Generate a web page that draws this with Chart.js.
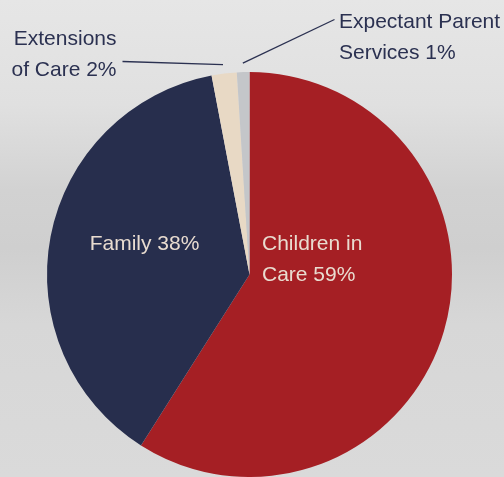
<!DOCTYPE html>
<html>
<head>
<meta charset="utf-8">
<script src="https://cdn.jsdelivr.net/npm/chart.js@4/dist/chart.umd.min.js"></script>
<style>
    html, body {
        margin: 0;
        padding: 0;
    }
    body {
        width: 504px;
        height: 477px;
        overflow: hidden;
        background: linear-gradient(to bottom, #e6e6e6 0%, #e0e0e0 22%, #d2d2d2 40%, #cfcfcf 52%, #d7d7d7 68%, #dadada 100%);
    }
</style>
</head>
<body>
<canvas id="pieChart" width="504" height="477"></canvas>
<script>
// Program spending shares
const categories = ['Children in Care', 'Family', 'Extensions of Care', 'Expectant Parent Services'];
const shares = [59, 38, 2, 1];
const sliceColors = ['#a51f24', '#272e4d', '#e8d9c5', '#c4c6c9'];

// Text shown for each slice (one entry per line)
const sliceLabels = [
    ['Children in', 'Care 59%'],
    ['Family 38%'],
    ['Extensions', 'of Care 2%'],
    ['Expectant Parent', 'Services 1%']
];

// where each label sits, relative to the pie centre
const labelLayout = [
    { dx: 12.5, dy: -25, align: 'left', color: '#e9dcd0' },
    { dx: -105, dy: -25, align: 'center', color: '#e9dcd0' },
    { dx: -133, dy: -230, align: 'right', color: '#2b3151', leader: { toX: -127, toY: -213 } },
    { dx: 89.5, dy: -247, align: 'left', color: '#2b3151', leader: { toX: 85, toY: -255 } }
];

const sliceText = {
    id: 'sliceText',
    afterDatasetsDraw(chart) {
        const ctx = chart.ctx;
        const arcs = chart.getDatasetMeta(0).data;
        ctx.save();
        ctx.font = '21px "Liberation Sans", Arial, sans-serif';
        ctx.textBaseline = 'alphabetic';

        arcs.forEach((arc, i) => {
            const lay = labelLayout[i];
            const cx = arc.x, cy = arc.y;

            if (lay.leader) {
                // start the leader just outside the slice's middle
                const mid = (arc.startAngle + arc.endAngle) / 2;
                const r = arc.outerRadius + 9;
                ctx.beginPath();
                ctx.moveTo(cx + Math.cos(mid) * r, cy + Math.sin(mid) * r);
                ctx.lineTo(cx + lay.leader.toX, cy + lay.leader.toY);
                ctx.strokeStyle = '#2b3151';
                ctx.lineWidth = 1.3;
                ctx.stroke();
            }

            ctx.fillStyle = lay.color;
            ctx.textAlign = lay.align;
            sliceLabels[i].forEach((line, k) => {
                ctx.fillText(line, cx + lay.dx, cy + lay.dy + k * 31);
            });
        });
        ctx.restore();
    }
};

new Chart(document.getElementById('pieChart').getContext('2d'), {
    type: 'pie',
    data: {
        labels: categories,
        datasets: [{
            data: shares,
            backgroundColor: sliceColors,
            borderWidth: 0
        }]
    },
    options: {
        responsive: false,
        animation: false,
        layout: {
            padding: { top: 72, bottom: 0, left: 47, right: 52 }
        },
        plugins: {
            legend: { display: false },
            tooltip: { enabled: false }
        }
    },
    plugins: [sliceText]
});
</script>
</body>
</html>
